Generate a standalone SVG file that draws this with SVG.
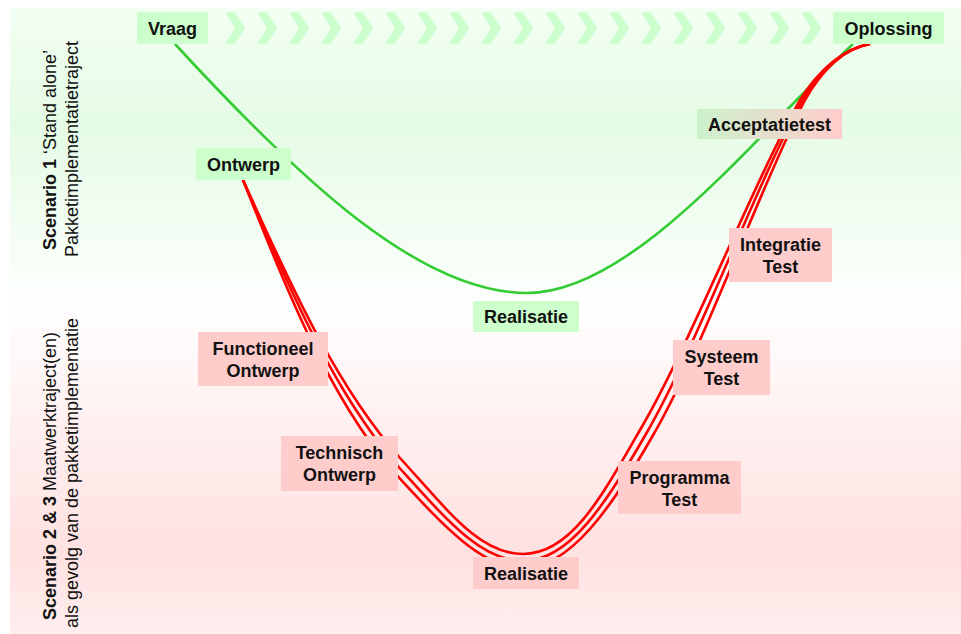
<svg xmlns="http://www.w3.org/2000/svg" width="961" height="634" viewBox="0 0 961 634">
<defs>
<linearGradient id="gTop" x1="0" y1="0" x2="0" y2="1">
<stop offset="0" stop-color="#f3fff3"/>
<stop offset="0.4" stop-color="#e5fbe5"/>
<stop offset="1" stop-color="#fdfffd"/>
</linearGradient>
<linearGradient id="gBot" x1="0" y1="0" x2="0" y2="1">
<stop offset="0" stop-color="#ffffff"/>
<stop offset="0.75" stop-color="#ffe1e1"/>
<stop offset="1" stop-color="#ffeeee"/>
</linearGradient>
<linearGradient id="gAcc" x1="0" y1="0" x2="1" y2="0">
<stop offset="0" stop-color="#ccf2cc"/>
<stop offset="1" stop-color="#ffcccc"/>
</linearGradient>
<polygon id="chev" points="0,0 10,0 20,16 10,32 0,32 10,16"/>
<style>
.t{font-family:"Liberation Sans",Arial,sans-serif;font-size:18px;font-weight:bold;fill:#111;text-anchor:middle}
.s{font-family:"Liberation Sans",Arial,sans-serif;font-size:18px;fill:#111;text-anchor:middle}
.g{fill:#ccffcc}
.p{fill:#ffcccc}
.red{fill:none;stroke:#ff0000;stroke-width:2.6}
.grn{fill:none;stroke:#33cc33;stroke-width:2.6}
</style>
</defs>
<rect x="10" y="8" width="951" height="292" fill="url(#gTop)"/>
<rect x="10" y="300" width="951" height="334" fill="url(#gBot)"/>
<g id="chevrons" fill="#ccffcc">
<use href="#chev" x="225" y="12"/><use href="#chev" x="257" y="12"/><use href="#chev" x="289" y="12"/><use href="#chev" x="321" y="12"/><use href="#chev" x="353" y="12"/><use href="#chev" x="385" y="12"/><use href="#chev" x="417" y="12"/><use href="#chev" x="449" y="12"/><use href="#chev" x="481" y="12"/><use href="#chev" x="513" y="12"/><use href="#chev" x="545" y="12"/><use href="#chev" x="577" y="12"/><use href="#chev" x="609" y="12"/><use href="#chev" x="641" y="12"/><use href="#chev" x="673" y="12"/><use href="#chev" x="705" y="12"/><use href="#chev" x="737" y="12"/><use href="#chev" x="769" y="12"/><use href="#chev" x="801" y="12"/>
</g>
<g id="connectors">
<path class="grn" d="M175,44 C300,180 420,293 527,293 C635,293 760,130 853,44"/>
<path class="red" d="M243,180 C280,260 330,380 400,458 C450,513 480,554 523,554 C570,554 600,500 640,430 C690,345 750,190 800,100 C820,68 845,48 870,44"/>
<path class="red" d="M243,180 C278,261 326,382 395,463 C445,518 480,561 523,561 C570,561 606,503 646,434 C696,348 753,192 802,101 C821,68 845,48 870,44"/>
<path class="red" d="M243,180 C276,262 321,385 390,468 C440,522 480,568 523,568 C570,568 612,507 652,437 C702,352 757,194 804,102 C822,69 845,48 870,44"/>
</g>
<g id="label-s1">
<text class="s" transform="translate(56,150) rotate(-90)"><tspan font-weight="bold">Scenario 1</tspan> ‘Stand alone’</text>
<text class="s" transform="translate(78,149) rotate(-90)">Pakketimplementatietraject</text>
</g>
<g id="label-s2">
<text class="s" transform="translate(56,476) rotate(-90)"><tspan font-weight="bold">Scenario 2 &amp; 3</tspan> Maatwerktraject(en)</text>
<text class="s" transform="translate(78,473) rotate(-90)">als gevolg van de pakketimplementatie</text>
</g>
<g id="vraag"><rect class="g" x="137" y="12" width="71" height="32"/><text class="t" x="172.5" y="34.5">Vraag</text></g>
<g id="oplossing"><rect class="g" x="833" y="12" width="111" height="32"/><text class="t" x="888.5" y="34.5">Oplossing</text></g>
<g id="ontwerp"><rect class="g" x="196" y="148" width="95" height="32"/><text class="t" x="243.5" y="170.5">Ontwerp</text></g>
<g id="acceptatietest"><rect fill="url(#gAcc)" x="697" y="109" width="145" height="30"/><text class="t" x="769.5" y="130.5">Acceptatietest</text></g>
<g id="realisatie1"><rect class="g" x="473" y="301" width="106" height="31"/><text class="t" x="526" y="323">Realisatie</text></g>
<g id="functioneel"><rect class="p" x="198" y="332" width="130" height="54"/><text class="t" x="263" y="355">Functioneel</text><text class="t" x="263" y="377">Ontwerp</text></g>
<g id="technisch"><rect class="p" x="281" y="436" width="117" height="55"/><text class="t" x="339.5" y="459">Technisch</text><text class="t" x="339.5" y="481">Ontwerp</text></g>
<g id="realisatie2"><rect class="p" x="473" y="557" width="106" height="32"/><text class="t" x="526" y="580">Realisatie</text></g>
<g id="integratie"><rect class="p" x="729" y="228" width="103" height="54"/><text class="t" x="780.5" y="251">Integratie</text><text class="t" x="780.5" y="273">Test</text></g>
<g id="systeem"><rect class="p" x="673" y="340" width="97" height="55"/><text class="t" x="721.5" y="363">Systeem</text><text class="t" x="721.5" y="385">Test</text></g>
<g id="programma"><rect class="p" x="618" y="461" width="123" height="53"/><text class="t" x="679.5" y="484">Programma</text><text class="t" x="679.5" y="506">Test</text></g>
</svg>
